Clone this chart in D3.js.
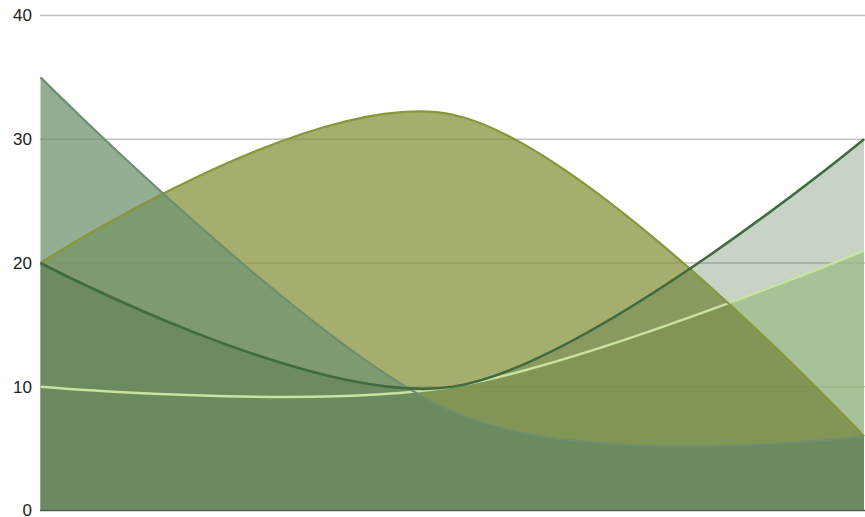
<!DOCTYPE html>
<html>
<head>
<meta charset="utf-8">
<script src="https://cdn.jsdelivr.net/npm/d3@7"></script>
<style>
  html, body { margin: 0; padding: 0; background: #fff; }
  svg { display: block; }
</style>
</head>
<body>
<svg id="chart" width="865" height="517"></svg>
<script>
// ---- data ----
const categories = ["A", "B", "C"];
const seriesNames = ["Series 1", "Series 2", "Series 3", "Series 4"];
const series1 = [10, 10, 21];   // light line
const series2 = [20, 32, 6];    // olive
const series3 = [35, 8, 6];     // grey-green
const series4 = [20, 10, 30];   // dark green
const yTicks = [0, 10, 20, 30, 40];

// ---- styles (draw order bottom -> top) ----
const styles = [
  { fill: "#c8dca6", fillOpacity: 0.75, stroke: "#c8e2a0", width: 2.5 },
  { fill: "#88933e", fillOpacity: 0.75, stroke: "#86983a", width: 2.2 },
  { fill: "#709370", fillOpacity: 0.75, stroke: "#6d8f6f", width: 2.2 },
  { fill: "#416c3e", fillOpacity: 0.30, stroke: "#3f6b3f", width: 2.6 }
];
const allSeries = [series1, series2, series3, series4];

const svg = d3.select("#chart");
const x = d3.scalePoint().domain(categories).range([40.5, 864]);
const y = d3.scaleLinear().domain([0, 40]).range([510.5, 15.5]);

// gridlines
svg.append("g")
  .selectAll("line")
  .data(yTicks.filter(d => d > 0))
  .join("line")
  .attr("x1", 40).attr("x2", 865)
  .attr("y1", d => y(d)).attr("y2", d => y(d))
  .attr("stroke", "#c2c2c2")
  .attr("stroke-width", 1.5);

const area = d3.area()
  .x((d, i) => x(categories[i]))
  .y0(y(0))
  .y1(d => y(d))
  .curve(d3.curveCardinal);

const line = d3.line()
  .x((d, i) => x(categories[i]))
  .y(d => y(d))
  .curve(d3.curveCardinal);

const areas = svg.append("g");
allSeries.forEach((s, k) => {
  areas.append("path")
    .attr("d", area(s))
    .attr("fill", styles[k].fill)
    .attr("fill-opacity", styles[k].fillOpacity);
});

const lines = svg.append("g");
allSeries.forEach((s, k) => {
  lines.append("path")
    .attr("d", line(s))
    .attr("fill", "none")
    .attr("stroke", styles[k].stroke)
    .attr("stroke-width", styles[k].width);
});

// baseline
svg.append("line")
  .attr("x1", 40).attr("x2", 865)
  .attr("y1", y(0)).attr("y2", y(0))
  .attr("stroke", "#555")
  .attr("stroke-width", 1.5);

// y axis labels
const yAxis = d3.axisLeft(y).tickValues(yTicks).tickSize(0).tickPadding(0);
const gy = svg.append("g")
  .attr("transform", "translate(32,0)")
  .call(yAxis);
gy.select(".domain").remove();
gy.selectAll("text")
  .attr("fill", "#222")
  .attr("font-family", "'Liberation Sans', Arial, sans-serif")
  .attr("font-size", "17px");
</script>
</body>
</html>
